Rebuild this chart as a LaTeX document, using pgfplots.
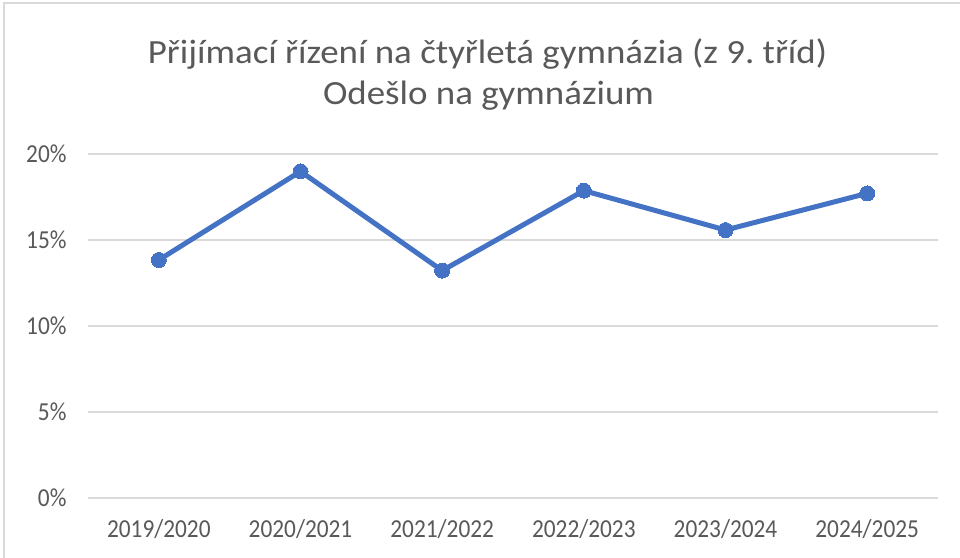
\documentclass[border=0pt]{standalone}
\usepackage{pgfplots}
\pgfplotsset{compat=1.18}
\usepackage{fontspec}
\setmainfont{Carlito}
\newfontfamily\titlefont{Carlito}[FakeStretch=1.09]
\newfontfamily\tickfont{Carlito}[FakeStretch=0.9]
\definecolor{lineblue}{HTML}{4472C4}
\definecolor{gridgray}{HTML}{D9D9D9}
\definecolor{textgray}{HTML}{595959}
\definecolor{framegray}{HTML}{D9D9D9}
\frenchspacing
\begin{document}
\begin{tikzpicture}[x=1bp,y=1bp]
\useasboundingbox (0,0) rectangle (960,558);
\fill[white] (0,0) rectangle (960,558);
\draw[framegray, line width=1.5bp] (4,-5) -- (4,555) -- (965,555);
\node[anchor=base, text=textgray, font=\titlefont\fontsize{34}{40}\selectfont, inner sep=0pt] at (487.5,494.7)
  {Přijímací řízení na čtyřletá gymnázia (z 9. tříd)};
\node[anchor=base, text=textgray, font=\titlefont\fontsize{34}{40}\selectfont, inner sep=0pt] at (488.5,453)
  {Odešlo na gymnázium};
\begin{axis}[
  at={(88bp,60bp)}, anchor=south west,
  scale only axis, width=850bp, height=344bp,
  xmin=-0.5, xmax=5.5, ymin=0, ymax=20,
  xtick={0,1,2,3,4,5},
  xticklabels={2019/2020,2020/2021,2021/2022,2022/2023,2023/2024,2024/2025},
  ytick={0,5,10,15,20},
  yticklabel={\pgfmathprintnumber{\tick}\%},
  /pgf/number format/assume math mode=true,
  ymajorgrids, xmajorgrids=false,
  major grid style={gridgray, line width=1.3bp},
  axis line style={draw=none},
  tick style={draw=none},
  ticklabel style={text=textgray, font=\tickfont\fontsize{26}{30}\selectfont},
  yticklabel style={xshift=-18bp},
  xticklabel style={yshift=-18bp},
  clip=false,
]
\addplot[gridgray, line width=1.3bp, forget plot] coordinates {(-0.5,0) (5.5,0)};
\addplot[lineblue, line width=5bp, mark=*, mark size=7.5bp, mark options={fill=lineblue, draw=lineblue, line width=0bp}]
  coordinates {(0,13.84) (1,18.99) (2,13.22) (3,17.87) (4,15.58) (5,17.71)};
\end{axis}
\end{tikzpicture}
\end{document}
